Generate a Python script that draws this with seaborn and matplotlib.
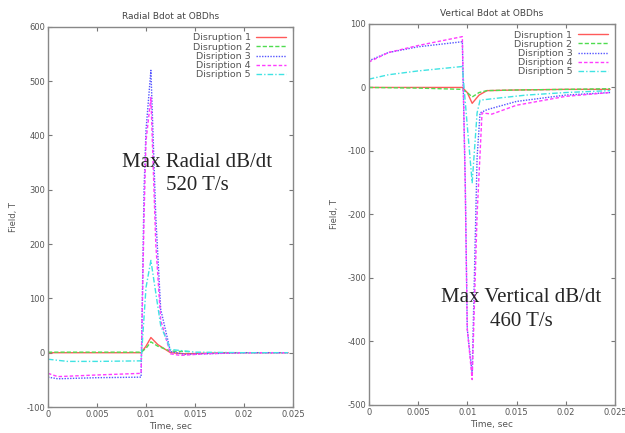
import matplotlib
matplotlib.use("Agg")
import matplotlib.pyplot as plt
import seaborn as sns
import pandas as pd

sns.set_style("white")
plt.rcParams['font.family'] = ['DejaVu Sans']

labels = ["Disruption 1", "Disruption 2", "Disription 3", "Disription 4", "Disription 5"]
colors = ["#ff5a5a", "#4fdc4f", "#5555ff", "#ff3cff", "#3fe3e3"]
styles = ["-", (0, (3, 1.5)), (0, (1, 1)), (0, (2.5, 1.5)), (0, (4, 1.5, 1, 1.5))]

# Radial Bdot
rad_t = [
    [0, 0.005, 0.0095, 0.0100, 0.0105, 0.0112, 0.0125, 0.0140, 0.0180, 0.0245],
    [0, 0.005, 0.0095, 0.0100, 0.0105, 0.0112, 0.0125, 0.0145],
    [0, 0.001, 0.005, 0.0095, 0.0098, 0.0100, 0.0105, 0.0110, 0.0115, 0.0125, 0.0140, 0.0200, 0.0245],
    [0, 0.001, 0.005, 0.0095, 0.0098, 0.0100, 0.0105, 0.0110, 0.0115, 0.0125, 0.0135, 0.0160, 0.0200, 0.0245],
    [0, 0.002, 0.005, 0.0095, 0.0100, 0.0105, 0.0110, 0.0115, 0.0125, 0.0150, 0.0200, 0.0245],
]
rad_v = [
    [0, 0, 0, 12, 28, 15, 0, -2, 0, 0],
    [1, 1, 1, 8, 20, 12, 3, 2],
    [-45, -48, -46, -45, 300, 410, 520, 250, 80, 2, -3, 0, 0],
    [-38, -44, -41, -38, 250, 390, 470, 200, 60, -2, -5, -2, 0, 0],
    [-12, -16, -16, -15, 120, 170, 110, 50, 6, 1, 0, 0],
]

# Vertical Bdot
ver_t = [
    [0, 0.005, 0.0095, 0.0100, 0.0105, 0.0112, 0.0120, 0.0150, 0.0200, 0.0245],
    [0, 0.005, 0.0095, 0.0100, 0.0105, 0.0112, 0.0120, 0.0150, 0.0200, 0.0245],
    [0, 0.002, 0.005, 0.0095, 0.0098, 0.0100, 0.0105, 0.0110, 0.0113, 0.0120, 0.0150, 0.0200, 0.0245],
    [0, 0.002, 0.005, 0.0095, 0.0098, 0.0100, 0.0105, 0.0110, 0.0115, 0.0125, 0.0150, 0.0200, 0.0245],
    [0, 0.002, 0.005, 0.0095, 0.0100, 0.0105, 0.0110, 0.0113, 0.0130, 0.0160, 0.0200, 0.0245],
]
ver_v = [
    [0, 0, 0, -8, -25, -12, -5, -4, -3, -3],
    [0, -1, -3, -8, -15, -8, -5, -4, -3, -2],
    [42, 55, 64, 72, -150, -380, -450, -110, -40, -35, -22, -12, -8],
    [40, 55, 66, 80, -160, -380, -460, -200, -40, -42, -28, -14, -8],
    [13, 20, 26, 33, -60, -150, -40, -20, -17, -12, -8, -5],
]

fig = plt.figure(figsize=(6.25, 4.33), dpi=100)
ax1 = fig.add_axes([0.0768, 0.060, 0.392, 0.878])
ax2 = fig.add_axes([0.590, 0.0647, 0.394, 0.880])

xticks = [0, 0.005, 0.01, 0.015, 0.02, 0.025]
xlabels = ["0", "0.005", "0.01", "0.015", "0.02", "0.025"]


def draw(ax, ts, vs, title, ylim, yticks):
    for t, v, lab, c, ls in zip(ts, vs, labels, colors, styles):
        df = pd.DataFrame({"t": t, "v": v})
        sns.lineplot(data=df, x="t", y="v", ax=ax, color=c, linestyle=ls,
                     linewidth=1.0, label=lab)
    ax.set_xlim(0, 0.025)
    ax.set_ylim(*ylim)
    ax.set_xticks(xticks)
    ax.set_xticklabels(xlabels)
    ax.set_yticks(yticks)
    ax.set_yticklabels([str(y) for y in yticks])
    ax.tick_params(direction="in", length=3, width=0.8, colors="#777777",
                   labelcolor="#555555", labelsize=6, top=True, right=True,
                   bottom=True, left=True, pad=2)
    for s in ax.spines.values():
        s.set_color("#888888")
        s.set_linewidth(1.0)
    ax.set_title(title, fontsize=6.5, color="#444444", pad=6)
    ax.set_xlabel("Time, sec", fontsize=6.5, color="#555555", labelpad=2)
    ax.set_ylabel("Field, T", fontsize=6, color="#555555", labelpad=6)
    leg = ax.legend(loc="upper right", fontsize=6.8, frameon=False,
                    markerfirst=False, handlelength=3.2, labelspacing=0.02,
                    borderaxespad=0.3, handletextpad=0.6)
    for txt in leg.get_texts():
        txt.set_color("#555555")


draw(ax1, rad_t, rad_v, "Radial Bdot at OBDhs", (-100, 600),
     [-100, 0, 100, 200, 300, 400, 500, 600])
draw(ax2, ver_t, ver_v, "Vertical Bdot at OBDhs", (-500, 100),
     [-500, -400, -300, -200, -100, 0, 100])

ax1.text(0.0152, 329, "Max Radial dB/dt\n520 T/s", fontsize=15,
         family="Liberation Serif", ha="center", va="center",
         linespacing=1.35)
ax2.text(0.01545, -350, "Max Vertical dB/dt\n460 T/s", fontsize=15,
         family="Liberation Serif", ha="center", va="center",
         linespacing=1.35)

fig.savefig("out.png", dpi=100)
